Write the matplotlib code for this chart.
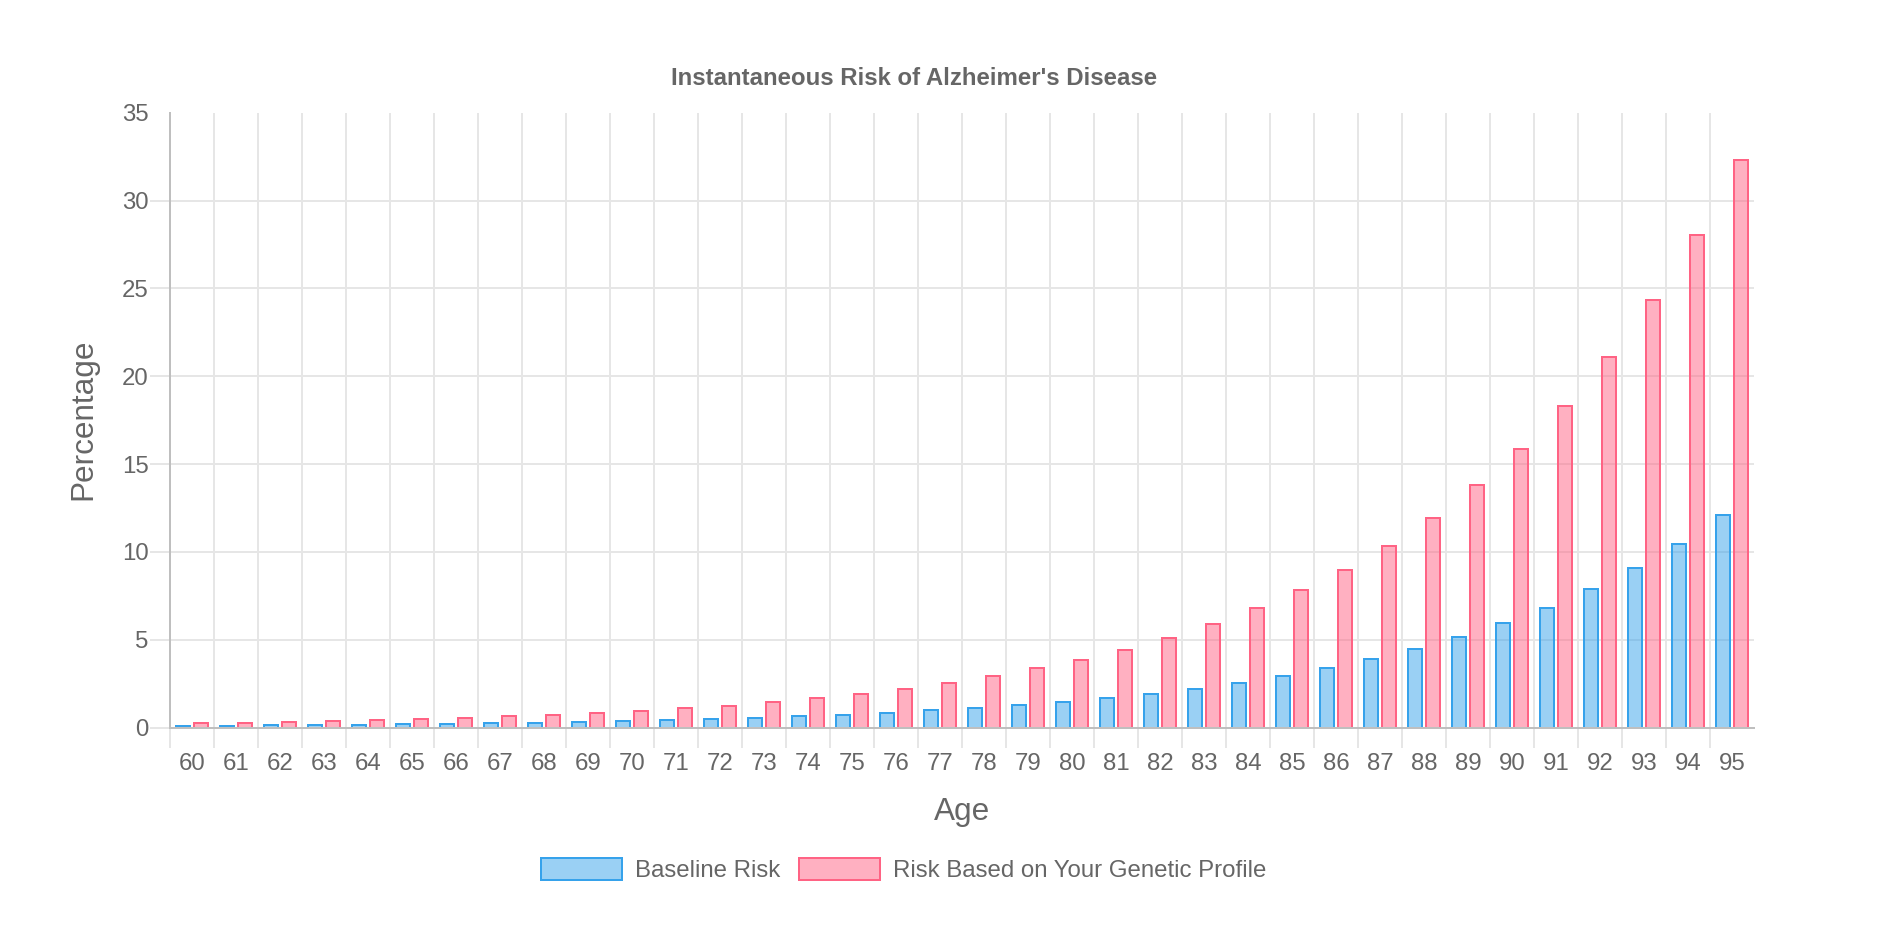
import matplotlib
matplotlib.use("Agg")
import matplotlib.pyplot as plt
import numpy as np

ages = list(range(60, 96))
baseline_risk = [0.10, 0.11, 0.13, 0.15, 0.17, 0.19, 0.21, 0.25, 0.27, 0.31,
                 0.36, 0.42, 0.48, 0.56, 0.65, 0.74, 0.85, 0.97, 1.11, 1.27,
                 1.47, 1.68, 1.93, 2.21, 2.56, 2.96, 3.37, 3.88, 4.47, 5.17,
                 5.95, 6.83, 7.90, 9.08, 10.46, 12.09]
genetic_risk = [0.23, 0.27, 0.31, 0.36, 0.41, 0.48, 0.56, 0.63, 0.73, 0.83,
                0.95, 1.09, 1.24, 1.43, 1.66, 1.91, 2.20, 2.54, 2.93, 3.36,
                3.86, 4.44, 5.12, 5.91, 6.79, 7.82, 8.99, 10.36, 11.94, 13.79,
                15.87, 18.30, 21.08, 24.31, 28.03, 32.29]
y_ticks = list(range(0, 40, 5))

W, H = 1878, 930
PX = 0.72  # points per pixel at dpi 100
TEXT = "#666666"
GRID = "#e6e6e6"
ZERO = "#bfbfbf"

plt.rcParams["font.family"] = ["Liberation Sans", "DejaVu Sans"]

fig = plt.figure(figsize=(W / 100, H / 100), dpi=100)
left, right, top, bottom = 170, 1754, 112.7, 727.5
ax = fig.add_axes([left / W, 1 - bottom / H, (right - left) / W, (bottom - top) / H])

x = np.arange(len(ages))
bw = 0.315
ax.bar(x - 0.2, baseline_risk, width=bw, color=(54/255, 162/255, 235/255, 0.5),
       edgecolor="#36a2eb", linewidth=2 * PX, label="Baseline Risk", zorder=2)
ax.bar(x + 0.2, genetic_risk, width=bw, color=(255/255, 99/255, 132/255, 0.5),
       edgecolor="#ff6384", linewidth=2 * PX, label="Risk Based on Your Genetic Profile", zorder=2)

ax.set_xlim(-0.5, len(ages) - 0.5)
ax.set_ylim(0, 35)

# category labels at centers, grid lines at boundaries
ax.set_xticks(x)
ax.set_xticklabels([str(a) for a in ages])
ax.set_xticks(np.arange(-0.5, len(ages) - 1, 1.0), minor=True)
ax.tick_params(axis="x", which="major", length=0, pad=18.5, labelsize=24 * PX, labelcolor=TEXT)
ax.tick_params(axis="x", which="minor", length=20 * PX, width=2 * PX, color=GRID, direction="out")
ax.grid(axis="x", which="minor", color=GRID, linewidth=2 * PX)

ax.set_yticks(y_ticks)
ax.tick_params(axis="y", which="major", length=20 * PX, width=2 * PX, color=GRID, pad=1,
               labelsize=24 * PX, labelcolor=TEXT)
ax.grid(axis="y", which="major", color=GRID, linewidth=2 * PX)
ax.set_axisbelow(True)

yt = ax.yaxis.get_major_ticks()
yt[-1].tick1line.set_visible(False)
yt[-1].gridline.set_visible(False)
yt[0].tick1line.set_color(ZERO)

for s in ["top", "right"]:
    ax.spines[s].set_visible(False)
for s in ["left", "bottom"]:
    ax.spines[s].set_color(ZERO)
    ax.spines[s].set_linewidth(2 * PX)
    ax.spines[s].set_zorder(3)

fig.text(914 / W, 1 - 85 / H, "Instantaneous Risk of Alzheimer's Disease",
         ha="center", va="baseline", fontsize=24 * PX, fontweight="bold", color=TEXT)
fig.text((left + right) / 2 / W, 1 - 812 / H, "Age", ha="center", va="center",
         fontsize=31.5 * PX, color=TEXT)
fig.text(83 / W, 1 - 419 / H, "Percentage", ha="center", va="center", rotation=90,
         fontsize=31.5 * PX, color=TEXT)

fig.legend(loc="center", bbox_to_anchor=(903.6 / W, 1 - 870 / H), ncol=2, frameon=False,
           fontsize=24 * PX, labelcolor=TEXT, handlelength=3.375, handleheight=1.04,
           handletextpad=0.54, columnspacing=0.8, borderaxespad=0, borderpad=0)

fig.savefig("out.png", dpi=100, facecolor="white")
